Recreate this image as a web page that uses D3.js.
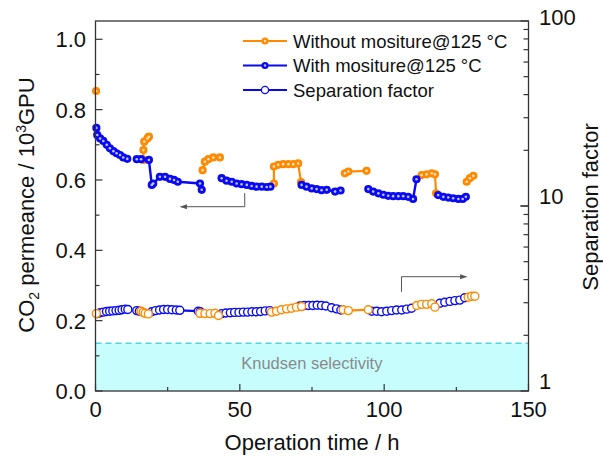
<!DOCTYPE html>
<html><head><meta charset="utf-8">
<script src="https://cdn.jsdelivr.net/npm/d3@7"></script>
<style>body{margin:0;background:#fff}svg{display:block}text{font-family:"Liberation Sans",Arial,sans-serif}</style>
</head><body>
<script>
// ---------- data ----------
// CO2 permeance (10^3 GPU), with moisture @125 °C; null = gap in line
const withTime = [0.3,0.6,1.6,2.7,3.9,5.0,6.2,7.3,8.5,9.6,11.0,null,
  14.3,15.8,18.5,19.5,20.0,22.3,24.1,25.8,27.2,28.5,36.2,36.8,null,
  43.7,45.4,47.2,48.9,50.6,52.4,54.1,55.8,57.6,59.3,60.6,null,
  71.4,73.1,74.9,76.6,78.3,80.1,83.0,84.9,null,
  94.5,96.2,98.0,99.7,101.4,103.1,104.9,106.6,108.3,110.0,111.2,null,
  118.7,120.5,122.2,123.9,125.7,127.2,128.3];
const withPerm = [0.748,0.728,0.718,0.711,0.700,0.690,0.682,0.676,0.671,0.664,0.660,null,
  0.659,0.659,0.657,0.586,0.590,0.609,0.609,0.603,0.600,0.595,0.590,0.572,null,
  0.605,0.598,0.595,0.590,0.588,0.586,0.583,0.581,0.581,0.580,0.581,null,
  0.586,0.581,0.576,0.574,0.571,0.572,0.567,0.570,null,
  0.574,0.567,0.562,0.558,0.555,0.554,0.554,0.554,0.552,0.546,0.602,null,
  0.557,0.552,0.550,0.548,0.546,0.546,0.552];
// without moisture
const withoutTime = [0.2,null,
  16.6,16.6,16.9,18.0,18.5,null,
  37.1,37.9,39.1,40.8,43.1,null,
  61.8,61.8,63.3,65.0,66.8,68.5,70.2,71.2,null,
  86.4,87.6,93.9,null,
  113.0,114.7,116.5,117.6,118.0,null,
  128.6,129.7,130.9];
const withoutPerm = [0.853,null,
  0.657,0.685,0.709,0.718,0.723,null,
  0.628,0.652,0.659,0.664,0.664,null,
  0.590,0.638,0.643,0.645,0.645,0.645,0.647,0.594,null,
  0.619,0.624,0.626,null,
  0.614,0.616,0.619,0.616,0.562,null,
  0.595,0.605,0.612];
// separation factor (right log axis)
const sepWithTime = [0.5,1.6,2.7,3.8,4.9,6.0,7.1,8.2,9.2,10.3,11.2,null,
  14.3,15.2,19.5,20.8,22.2,23.6,25.0,26.5,28.0,29.2,35.6,36.3,null,
  43.7,45.2,46.7,48.2,49.7,51.2,52.7,54.2,55.7,57.2,58.8,60.4,null,
  70.8,72.3,73.8,75.3,76.8,78.3,79.8,81.8,83.5,85.0,null,
  95.7,97.4,99.1,100.9,102.6,104.3,106.1,107.8,109.5,null,
  119.3,121.0,122.8,124.5,126.2,127.9];
const sepWith = [2.62,2.65,2.67,2.69,2.70,2.71,2.72,2.73,2.75,2.77,2.76,null,
  2.72,2.70,2.68,2.72,2.74,2.76,2.76,2.75,2.74,2.73,2.70,2.68,null,
  2.62,2.64,2.65,2.66,2.66,2.67,2.67,2.68,2.68,2.69,2.71,2.72,null,
  2.88,2.90,2.90,2.90,2.91,2.90,2.88,2.82,2.78,2.74,null,
  2.70,2.70,2.68,2.70,2.72,2.74,2.74,2.77,2.80,null,
  2.98,3.02,3.05,3.08,3.10,3.19];
const sepWithoutTime = [0.3,null,
  15.8,16.5,17.2,18.3,null,
  36.2,37.9,39.7,41.4,42.6,null,
  61.0,62.7,64.4,66.2,67.9,69.6,71.4,null,
  85.8,87.6,94.5,null,
  111.3,113.0,114.7,116.5,117.6,null,
  129.1,130.3,131.4];
const sepWithout = [2.62,null,
  2.70,2.66,2.63,2.61,null,
  2.63,2.62,2.62,2.63,2.56,null,
  2.67,2.70,2.75,2.78,2.80,2.84,2.86,null,
  2.75,2.72,2.75,null,
  2.90,2.94,2.94,2.96,2.84,null,
  3.21,3.25,3.25];
const knudsen = 1.81;
const xTicks = [0,50,100,150];
const yLeftTicks = [0.0,0.2,0.4,0.6,0.8,1.0];
const yRightTicks = [1,10,100];
const legendLabels = ["Without mositure@125 \u00B0C","With mositure@125 \u00B0C","Separation factor"];

// ---------- layout ----------
const W=603,H=457, L=95.5, R=528.5, T=21, B=391;
const orange="#FF8A00", blue="#0A0AF0", axisCol="#333";
const svg=d3.select("body").append("svg").attr("width",W).attr("height",H);
const x=d3.scaleLinear().domain([0,150]).range([L,R]);
const yL=d3.scaleLinear().domain([0,1.052]).range([B,T]);
const yR=d3.scaleLog().domain([1,100]).range([B,T]);

// Knudsen band
svg.append("rect").attr("x",L).attr("y",yR(knudsen)).attr("width",R-L).attr("height",B-yR(knudsen)).attr("fill","#C8FDFD");
svg.append("line").attr("x1",L).attr("x2",R).attr("y1",yR(knudsen)).attr("y2",yR(knudsen))
  .attr("stroke","#4ED6E6").attr("stroke-width",1.5).attr("stroke-dasharray","6,4");
svg.append("text").attr("x",x(50)+72).attr("y",369).attr("text-anchor","middle").attr("font-size",16.5).attr("fill","#8a8a8a").text("Knudsen selectivity");

function zip(t,v){return t.map((d,i)=>({t:d,v:v[i]}));}
function drawLine(data,ys,color,w){
  svg.append("path").datum(data).attr("fill","none").attr("stroke",color).attr("stroke-width",w)
    .attr("d",d3.line().defined(d=>d.t!==null&&d.v!==null).x(d=>x(d.t)).y(d=>ys(d.v)));
}
function drawFilled(data,ys,color){
  const pts=data.filter(d=>d.t!==null);
  const g=svg.append("g");
  g.selectAll("circle.f").data(pts).join("circle").attr("cx",d=>x(d.t)).attr("cy",d=>ys(d.v)).attr("r",4.1).attr("fill",color);
  g.selectAll("circle.h").data(pts).join("circle").attr("cx",d=>x(d.t)).attr("cy",d=>ys(d.v)).attr("r",1.3).attr("fill","#fff").attr("opacity",0.75);
}
function drawOpen(data,ys,color){
  const pts=data.filter(d=>d.t!==null);
  svg.append("g").selectAll("circle").data(pts).join("circle").attr("cx",d=>x(d.t)).attr("cy",d=>ys(d.v)).attr("r",4.0)
    .attr("fill","#fff").attr("stroke",color).attr("stroke-width",1.4);
}
const dWithout=zip(withoutTime,withoutPerm), dWith=zip(withTime,withPerm);
const sW=zip(sepWithTime,sepWith), sWo=zip(sepWithoutTime,sepWithout);
drawLine(sW,yR,blue,2.2); drawOpen(sW,yR,blue);
drawLine(sWo,yR,orange,2.2); drawOpen(sWo,yR,orange);
drawLine(dWithout,yL,orange,2.2); drawFilled(dWithout,yL,orange);
drawLine(dWith,yL,blue,2.4); drawFilled(dWith,yL,blue);

// arrows
const arrCol="#555";
svg.append("defs").append("marker").attr("id","ah").attr("viewBox","0 0 10 10").attr("refX",9).attr("refY",5)
  .attr("markerWidth",9).attr("markerHeight",7).attr("orient","auto")
  .append("path").attr("d","M0,1.5 L10,5 L0,8.5 Z").attr("fill",arrCol);
svg.append("path").attr("d",`M${x(51.7)},${yL(0.563)} V${yL(0.524)} H${x(29.5)}`).attr("fill","none").attr("stroke",arrCol).attr("stroke-width",1).attr("marker-end","url(#ah)");
svg.append("path").attr("d",`M${x(106)},${yL(0.282)} V${yL(0.325)} H${x(128.5)}`).attr("fill","none").attr("stroke",arrCol).attr("stroke-width",1).attr("marker-end","url(#ah)");

// frame
svg.append("rect").attr("x",L).attr("y",T).attr("width",R-L).attr("height",B-T).attr("fill","none").attr("stroke",axisCol).attr("stroke-width",1.3);

// x axis ticks (inward)
const fs=22;
const xAx=svg.append("g");
d3.range(0,151,25).forEach(v=>{
  const major=v%50===0;
  xAx.append("line").attr("x1",x(v)).attr("x2",x(v)).attr("y1",B).attr("y2",B-(major?7:4)).attr("stroke",axisCol).attr("stroke-width",1.2);
});
xAx.selectAll("text").data(xTicks).join("text").attr("x",d=>x(d)).attr("y",417).attr("text-anchor","middle").attr("font-size",fs).attr("fill","#111").text(d=>d);
svg.append("text").attr("x",x(75)).attr("y",450).attr("text-anchor","middle").attr("font-size",fs).attr("fill","#111").text("Operation time / h");

// left axis
const yAx=svg.append("g");
d3.range(0,11).forEach(i=>{
  const v=i/10, major=i%2===0;
  yAx.append("line").attr("x1",L).attr("x2",L+(major?7:4)).attr("y1",yL(v)).attr("y2",yL(v)).attr("stroke",axisCol).attr("stroke-width",1.2);
});
yAx.selectAll("text").data(yLeftTicks).join("text").attr("x",86).attr("y",d=>yL(d)+8).attr("text-anchor","end").attr("font-size",fs).attr("fill","#111").text(d=>d.toFixed(1));
const lt=svg.append("text").attr("transform","translate(34,205) rotate(-90)").attr("text-anchor","middle").attr("font-size",fs).attr("fill","#111");
lt.append("tspan").text("CO");
lt.append("tspan").attr("font-size",14).attr("dy",5).text("2");
lt.append("tspan").attr("dy",-5).text(" permeance / 10");
lt.append("tspan").attr("font-size",14).attr("dy",-8).text("3");
lt.append("tspan").attr("dy",8).text("GPU");

// right axis (log)
const rAx=svg.append("g");
[1,10].forEach(dec=>{
  for(let k=1;k<=10;k++){
    const v=dec*k; if(v>100) continue;
    const major=(k===1||k===10);
    rAx.append("line").attr("x1",R).attr("x2",R-(major?8:5)).attr("y1",yR(v)).attr("y2",yR(v)).attr("stroke",axisCol).attr("stroke-width",1.2);
  }
});
rAx.selectAll("text").data(yRightTicks).join("text").attr("x",539).attr("y",d=>Math.max(yR(d)-2,25)).attr("font-size",fs).attr("fill","#111").text(d=>d);
svg.append("text").attr("transform","translate(598,207) rotate(-90)").attr("text-anchor","middle").attr("font-size",fs).attr("fill","#111").text("Separation factor");

// legend
const lg=svg.append("g");
const legColors=[orange,blue,blue];
legendLabels.forEach((lab,i)=>{
  const yy=41+i*24.5;
  lg.append("line").attr("x1",243).attr("x2",287).attr("y1",yy).attr("y2",yy).attr("stroke",legColors[i]).attr("stroke-width",2.2);
  if(i<2){
    lg.append("circle").attr("cx",265).attr("cy",yy).attr("r",3.6).attr("fill",legColors[i]);
    lg.append("circle").attr("cx",265).attr("cy",yy).attr("r",1.2).attr("fill","#fff").attr("opacity",0.75);
  } else {
    lg.append("circle").attr("cx",265).attr("cy",yy).attr("r",3.6).attr("fill","#fff").attr("stroke",legColors[i]).attr("stroke-width",1.3);
  }
  lg.append("text").attr("x",293).attr("y",yy+6.5).attr("font-size",18.5).attr("fill","#111").text(lab);
});
</script>
</body></html>
